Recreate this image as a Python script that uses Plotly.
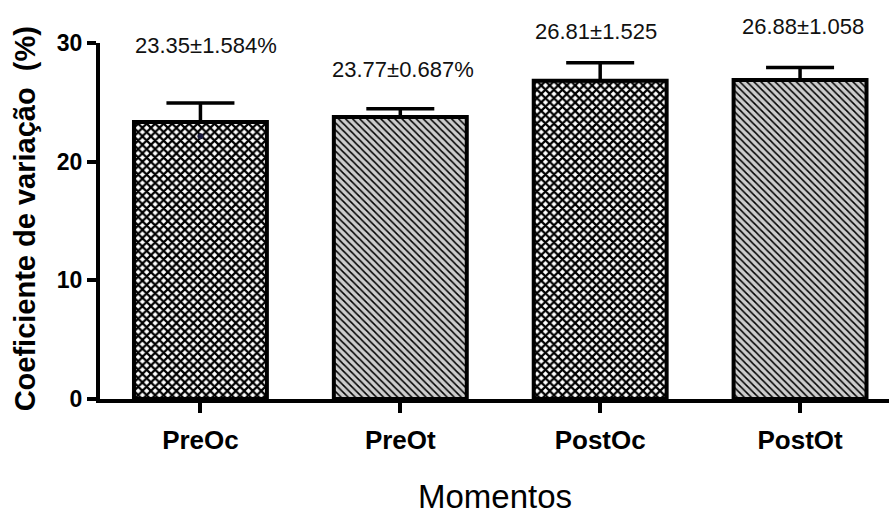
import plotly.graph_objects as go

categories = ["PreOc", "PreOt", "PostOc", "PostOt"]
means = [23.35, 23.77, 26.81, 26.88]
sem = [1.584, 0.687, 1.525, 1.058]
labels = ["23.35±1.584%", "23.77±0.687%", "26.81±1.525", "26.88±1.058"]
y_ticks = [0, 10, 20, 30]
dot_x = ["PreOc"]
dot_y = [22.15]

FONT = "Liberation Sans, Arial, sans-serif"

checker = dict(shape="x", size=6, solidity=0.6, fgcolor="black", bgcolor="white", fillmode="replace")
hatch = dict(shape="\\", size=5, solidity=0.3, fgcolor="black", bgcolor="#cccccc", fillmode="replace")
patterns = [checker, hatch, checker, hatch]

fig = go.Figure()
for i, cat in enumerate(categories):
    fig.add_trace(go.Bar(
        x=[cat], y=[means[i]],
        width=0.665,
        marker=dict(color="white", line=dict(color="black", width=4), pattern=patterns[i]),
        error_y=dict(type="data", symmetric=False, array=[sem[i]], arrayminus=[0],
                     color="black", thickness=3.5, width=34),
        showlegend=False,
    ))

fig.add_trace(go.Scatter(x=dot_x, y=dot_y, mode="markers",
                         marker=dict(color="#1a1a3a", size=6), showlegend=False))

# value labels above bars (paper coordinates derived from pixel placement)
PLOT_TOP, PLOT_BOTTOM = 43.0, 399.5
label_py = [45.5, 70, 31, 26]
label_dx = [6, 3, -4, 3]
for i, cat in enumerate(categories):
    fig.add_annotation(x=cat, y=(PLOT_BOTTOM - label_py[i]) / (PLOT_BOTTOM - PLOT_TOP),
                       xref="x", yref="paper", text=labels[i],
                       showarrow=False, xshift=label_dx[i], yanchor="middle",
                       font=dict(family=FONT, size=22, color="#111"))

fig.add_annotation(x=0, y=0.506, xref="paper", yref="paper", xshift=-75.5,
                   text="Coeficiente de variação &nbsp;(%)", textangle=-90, showarrow=False,
                   xanchor="center", yanchor="middle",
                   font=dict(family=FONT, size=29, color="black", weight="bold"))
fig.add_annotation(x=0.5, y=0, xref="paper", yref="paper", yshift=-97,
                   text="Momentos", showarrow=False, xanchor="center", yanchor="middle",
                   font=dict(family=FONT, size=33, color="black"))

fig.update_layout(
    width=889, height=514,
    margin=dict(l=99.5, r=0, t=43, b=114.5, autoexpand=False),
    plot_bgcolor="white", paper_bgcolor="white",
    bargap=0.3,
)
fig.update_xaxes(
    type="category", range=[-0.5025, 3.445], automargin=False,
    showline=True, linecolor="black", linewidth=4,
    ticks="outside", ticklen=10, tickwidth=3.5, tickcolor="black",
    ticklabelstandoff=5,
    tickfont=dict(family=FONT, size=26, color="black", weight="bold"),
    showgrid=False, zeroline=False,
)
fig.update_yaxes(
    range=[0, 30], tickvals=y_ticks, automargin=False,
    showline=True, linecolor="black", linewidth=4,
    ticks="outside", ticklen=9, tickwidth=3.5, tickcolor="black",
    tickfont=dict(family=FONT, size=23, color="black", weight="bold"),
    showgrid=False, zeroline=False,
)

fig.write_html("out.html", config={"displayModeBar": False},
               post_script="document.body.style.margin='0';document.body.style.padding='0';")
